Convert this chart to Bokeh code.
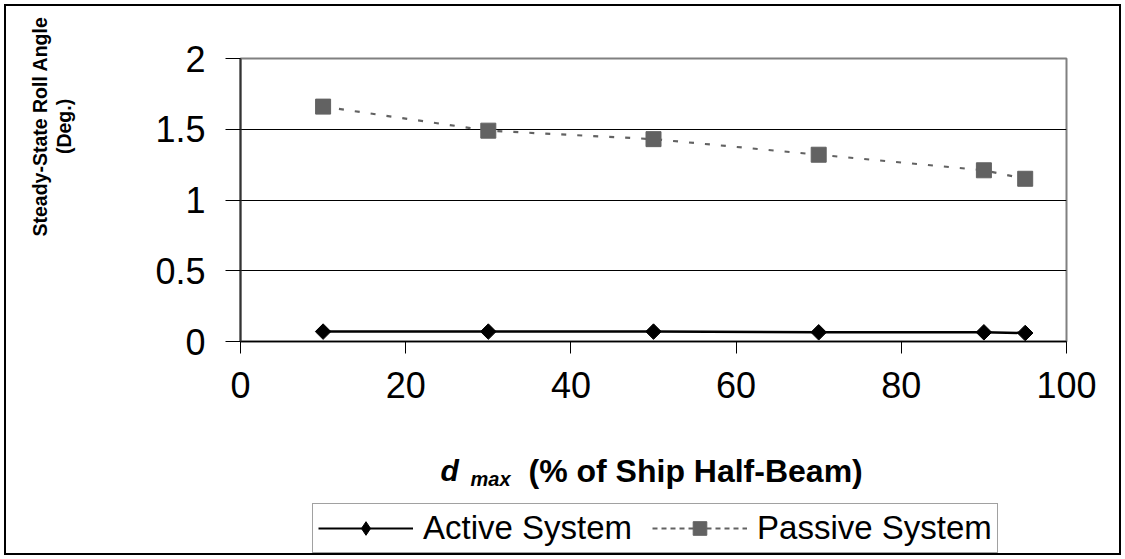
from math import pi

from bokeh.embed import file_html
from bokeh.layouts import column
from bokeh.models import (FixedTicker, Label, Legend, LegendItem, LinearAxis,
                          Range1d, Title)
from bokeh.plotting import figure
from bokeh.resources import INLINE

# d_max as % of ship half-beam, and steady-state roll angle (deg.)
d_max = [10, 30, 50, 70, 90, 95]
active_roll = [0.07, 0.07, 0.07, 0.065, 0.065, 0.06]
passive_roll = [1.66, 1.49, 1.43, 1.32, 1.21, 1.15]

x_ticks = [0, 20, 40, 60, 80, 100]
y_ticks = [0, 0.5, 1, 1.5, 2]
y_tick_labels = ["0", "0.5", "1", "1.5", "2"]

series_names = ["Active System", "Passive System"]
y_title_lines = ["(Deg.)", "Steady-State Roll Angle"]
x_title_parts = ["d", "max", "(% of Ship Half-Beam)"]

FONT = "Liberation Sans"
GREY = "#626262"
NAN = float("nan")

W, H = 1125, 559
TOP_H = 425                       # height of the plotting strip
FRAME_L, FRAME_R = 240, 1066      # plot area edges (px)
FRAME_T, FRAME_B = 58, 341

# ---- main plot -------------------------------------------------------------
p = figure(width=W, height=TOP_H, output_backend="svg", toolbar_location=None,
           x_range=Range1d(0, 100), y_range=Range1d(0, 2),
           min_border_left=FRAME_L, min_border_right=W - FRAME_R,
           min_border_top=FRAME_T, min_border_bottom=TOP_H - FRAME_B)
p.title = None
p.background_fill_color = "white"
p.border_fill_alpha = 0
p.outline_line_color = "#808080"
p.outline_line_width = 2

p.xaxis.ticker = FixedTicker(ticks=x_ticks)
p.yaxis.ticker = FixedTicker(ticks=y_ticks)
p.yaxis.major_label_overrides = {t: s for t, s in zip(y_ticks, y_tick_labels)}
for ax in (p.xaxis, p.yaxis):
    ax.major_label_text_font = FONT
    ax.major_label_text_font_size = "36px"
    ax.major_label_text_color = "black"
    ax.major_tick_in = 0
    ax.minor_tick_line_color = None
    ax.major_tick_line_color = "black"
    ax.major_tick_line_width = 1
p.xaxis.major_tick_out = 12
p.yaxis.major_tick_out = 15
p.xaxis.major_label_standoff = 18
p.yaxis.major_label_standoff = 20
p.xaxis.axis_line_color = "black"
p.xaxis.axis_line_width = 1.5
p.yaxis.axis_line_color = "#333333"
p.yaxis.axis_line_width = 2

p.xgrid.grid_line_color = None
p.ygrid.grid_line_color = "black"
p.ygrid.grid_line_width = 1

# blank axis that only opens a gap between the tick labels and the y title
gap_axis = LinearAxis(ticker=FixedTicker(ticks=[0]), major_tick_out=77,
                      major_tick_in=0, major_label_standoff=0,
                      major_label_overrides={0: ""},
                      axis_line_color=None, major_tick_line_color="white",
                      minor_tick_line_color=None)
p.add_layout(gap_axis, "left")

# two-line y title, each line centred on the same point of the upper plot
title_centre = FRAME_B - 126
for txt, half_len in zip(y_title_lines, [27.6, 110.0]):
    p.add_layout(Title(text=txt, align="left", vertical_align="middle",
                       offset=title_centre - half_len, standoff=0,
                       text_font=FONT, text_font_style="bold",
                       text_font_size="19.5px", text_color="black"), "left")

p.line(d_max, active_roll, line_color="black", line_width=2.5)
p.scatter(d_max, active_roll, marker="square", angle=pi / 4, size=11,
          fill_color="black", line_color="black")
p.line(d_max, passive_roll, line_color=GREY, line_width=2.2, line_dash="5 11")
p.scatter(d_max, passive_roll, marker="square", size=15,
          fill_color=GREY, line_color=GREY)

# ---- x title and legend strip ----------------------------------------------
# its frame lines up with the plot area above, so x runs in page pixels
BOT_H = H - TOP_H
bp = figure(width=W, height=BOT_H, output_backend="svg", toolbar_location=None,
            x_axis_type=None, y_axis_type=None,
            x_range=Range1d(FRAME_L, FRAME_R), y_range=Range1d(0, BOT_H),
            min_border=0)
bp.title = None
bp.outline_line_color = None
bp.background_fill_alpha = 0
bp.border_fill_alpha = 0


def from_top(py):
    return H - py


x0 = 440
bp.add_layout(Label(x=x0, y=from_top(470), text=x_title_parts[0],
                    text_align="left", text_baseline="alphabetic",
                    text_font=FONT, text_font_style="bold italic",
                    text_font_size="30px", text_color="black"))
bp.add_layout(Label(x=x0 + 30, y=from_top(478), text=x_title_parts[1],
                    text_align="left", text_baseline="alphabetic",
                    text_font=FONT, text_font_style="bold italic",
                    text_font_size="20px", text_color="black"))
bp.add_layout(Label(x=x0 + 88, y=from_top(470), text=x_title_parts[2],
                    text_align="left", text_baseline="alphabetic",
                    text_font=FONT, text_font_style="bold",
                    text_font_size="32px", text_color="black"))

# legend keys: one undrawable point each, so only the key symbol shows
k_al = bp.line([NAN], [NAN], line_color="black", line_width=2)
k_am = bp.scatter([NAN], [NAN], marker="diamond", size=11,
                  fill_color="black", line_color="black")
k_pl = bp.line([NAN], [NAN], line_color=GREY, line_width=2, line_dash="5 4")
k_pm = bp.scatter([NAN], [NAN], marker="square", size=13,
                  fill_color=GREY, line_color=GREY)
legend = Legend(items=[LegendItem(label=series_names[0], renderers=[k_al, k_am]),
                       LegendItem(label=series_names[1], renderers=[k_pl, k_pm])],
                orientation="horizontal", location=(312 - FRAME_L, 6),
                glyph_width=95, glyph_height=34, label_standoff=10, spacing=20,
                padding=5, margin=0,
                label_text_font=FONT, label_text_font_size="33px",
                label_text_color="black",
                border_line_color="#444444", border_line_width=1.5,
                background_fill_color="white")
bp.add_layout(legend, "center")

layout = column(p, bp, spacing=0,
                styles={"outline": "2px solid black", "outline-offset": "-6px"})

open("out.html", "w").write(file_html(layout, INLINE))
